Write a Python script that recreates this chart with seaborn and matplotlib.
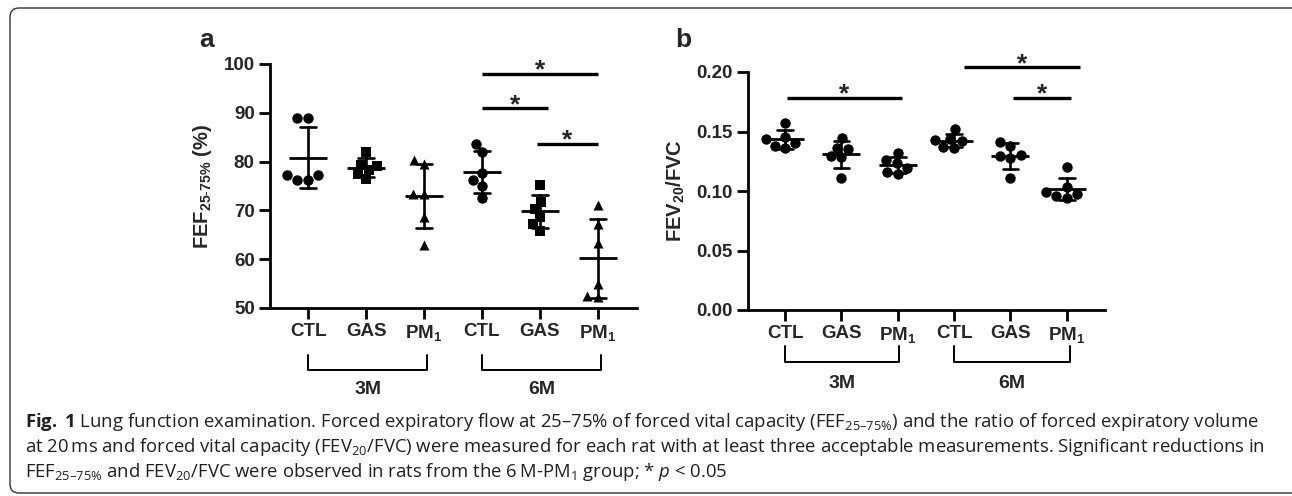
import pandas as pd
import matplotlib
matplotlib.use('Agg')
from matplotlib import pyplot as plt
from matplotlib import transforms
from matplotlib.patches import FancyBboxPatch
import seaborn as sns

# groups on the x axis (3 months, then 6 months)
groups = ['3M-CTL', '3M-GAS', '3M-PM1', '6M-CTL', '6M-GAS', '6M-PM1']
group_labels = ['CTL', 'GAS', r'PM$_\mathregular{1}$'] * 2
markers_a = ['o', 's', '^', 'o', 's', '^']
markers_b = ['o'] * 6
period_labels = ['3M', '6M']

# panel a: FEF 25-75% (%) per rat
fef_3m_ctl = [88.9, 88.9, 77.2, 77.2, 76.3, 76.3]
fef_3m_gas = [82.0, 79.4, 79.2, 78.2, 77.5, 76.4]
fef_3m_pm1 = [80.3, 79.6, 73.3, 73.3, 68.6, 63.0]
fef_6m_ctl = [83.7, 81.9, 77.7, 76.2, 74.9, 72.5]
fef_6m_gas = [75.2, 71.8, 70.3, 68.7, 67.2, 65.8]
fef_6m_pm1 = [71.1, 67.2, 63.3, 54.9, 52.5, 52.3]

# panel b: FEV20/FVC per rat
fev_3m_ctl = [0.1574, 0.1450, 0.1437, 0.1400, 0.1380, 0.1360]
fev_3m_gas = [0.1443, 0.1365, 0.1355, 0.1290, 0.1285, 0.1107]
fev_3m_pm1 = [0.1322, 0.1260, 0.1233, 0.1195, 0.1160, 0.1143]
fev_6m_ctl = [0.1518, 0.1440, 0.1430, 0.1420, 0.1370, 0.1360]
fev_6m_gas = [0.1415, 0.1380, 0.1300, 0.1290, 0.1275, 0.1107]
fev_6m_pm1 = [0.1199, 0.1036, 0.0990, 0.0975, 0.0960, 0.0945]

# significance bars: (from group, to group, height)
sig_a = [(3.0, 5.0, 97.9), (3.0, 4.15, 90.9), (3.95, 5.0, 83.7)]
sig_b = [(0.03, 2.07, 0.1784), (3.17, 5.23, 0.2039), (4.04, 5.07, 0.1779)]

caption_lines = [
    r'$\mathbf{Fig.}$ $\mathbf{1}$ Lung function examination. Forced expiratory flow at 25–75% of forced vital capacity '
    r'(FEF$_\mathregular{25–75\%}$) and the ratio of forced expiratory volume',
    'at 20\u2009ms and forced vital capacity (FEV$_\\mathregular{20}$/FVC) were measured for each rat with '
    'at least three acceptable measurements. Significant reductions in',
    'FEF$_\\mathregular{25–75\\%}$ and FEV$_\\mathregular{20}$/FVC were observed in rats from the '
    '6\u2009M-PM$_\\mathregular{1}$ group; * $\\mathit{p}$ < 0.05',
]


def to_long(series, markers):
    rows = []
    for g, m, vals in zip(groups, markers, series):
        for v in vals:
            rows.append({'group': g, 'marker': m, 'value': v})
    return pd.DataFrame(rows)


df_a = to_long([fef_3m_ctl, fef_3m_gas, fef_3m_pm1, fef_6m_ctl, fef_6m_gas, fef_6m_pm1], markers_a)
df_b = to_long([fev_3m_ctl, fev_3m_gas, fev_3m_pm1, fev_6m_ctl, fev_6m_gas, fev_6m_pm1], markers_b)

sns.set_style('ticks')
plt.rcParams['font.family'] = ['Liberation Sans', 'DejaVu Sans']
plt.rcParams['mathtext.fontset'] = 'custom'
plt.rcParams['mathtext.rm'] = 'Open Sans:weight=normal'
plt.rcParams['mathtext.it'] = 'Open Sans:style=italic:weight=normal'
plt.rcParams['mathtext.bf'] = 'Open Sans:weight=bold'

fig = plt.figure(figsize=(12.92, 4.96), dpi=100)
W, H = 1292, 496


def px_axes(left, top, right, bottom):
    return fig.add_axes([left / W, 1 - bottom / H, (right - left) / W, (bottom - top) / H])


ax_a = px_axes(270, 64, 637, 308)
ax_b = px_axes(748, 72, 1105, 310)

sizes = {'o': 7.5, 's': 6.6, '^': 7.2}


def draw_panel(ax, df, ylim, yticks, yfmt, ylabel, sig, brackets, brackets_y, label_y):
    for m in ['o', 's', '^']:
        sub = df[df.marker == m]
        if len(sub) == 0:
            continue
        sns.swarmplot(data=sub, x='group', y='value', order=groups, marker=m,
                      size=sizes[m], color='black', linewidth=0, ax=ax)
    sns.pointplot(data=df, x='group', y='value', order=groups, errorbar='sd',
                  capsize=0.28, color='black', marker='_', markersize=27,
                  markeredgewidth=2, linestyle='none', err_kws={'linewidth': 1.9}, ax=ax)
    ax.set_ylim(*ylim)
    ax.set_xlim(-0.66, 5.68)
    ax.set_yticks(yticks)
    ax.set_yticklabels([yfmt.format(t) for t in yticks])
    ax.set_xticks(range(len(groups)))
    ax.set_xticklabels(group_labels)
    ax.set_xlabel('')
    ax.set_ylabel(ylabel, fontsize=14.5, fontweight='bold', labelpad=7)
    ax.tick_params(width=2, length=8, labelsize=13.5, pad=3, color='black')
    plt.setp(ax.get_xticklabels() + ax.get_yticklabels(), fontweight='bold')
    sns.despine(ax=ax)
    for s in ['left', 'bottom']:
        ax.spines[s].set_linewidth(2)
        ax.spines[s].set_color('black')

    for x0, x1, y in sig:
        ax.plot([x0, x1], [y, y], color='black', lw=2.4, clip_on=False, solid_capstyle='butt')
        ax.annotate('*', ((x0 + x1) / 2, y), xytext=(0, -2.5), textcoords='offset points',
                    ha='center', va='baseline', fontsize=19, fontweight='bold',
                    annotation_clip=False)

    # group brackets below the tick labels
    tr = transforms.blended_transform_factory(ax.transData, fig.transFigure)
    y_top, y_bot = brackets_y
    for (x0, x1), lab in zip(brackets, period_labels):
        ax.plot([x0, x0, x1, x1], [1 - y_top / H, 1 - y_bot / H, 1 - y_bot / H, 1 - y_top / H],
                color='black', lw=1.4, transform=tr, clip_on=False)
        ax.text((x0 + x1) / 2, 1 - label_y / H, lab, transform=tr, ha='center', va='center',
                fontsize=14, fontweight='bold')


draw_panel(ax_a, df_a, (50, 100), [50, 60, 70, 80, 90, 100], '{:.0f}',
           r'FEF$_\mathregular{25\text{-}75\%}$ (%)', sig_a,
           [(0.0, 2.06), (3.01, 5.05)], (355, 370), 389)
draw_panel(ax_b, df_b, (0, 0.2), [0, 0.05, 0.10, 0.15, 0.20], '{:.2f}',
           r'FEV$_\mathregular{20}$/FVC', sig_b,
           [(0.0, 2.03), (3.0, 5.05)], (346, 362), 384)

fig.text(207 / W, 1 - 40 / H, 'a', fontsize=19, fontweight='bold', ha='center', va='center')
fig.text(683 / W, 1 - 40 / H, 'b', fontsize=19, fontweight='bold', ha='center', va='center')

for i, line in enumerate(caption_lines):
    fig.text(25 / W, 1 - (422 + 25 * i) / H, line, family='Open Sans', fontweight='normal',
             fontsize=13.3, color='#231f20', ha='left', va='center')

frame = FancyBboxPatch((0.10, 0.03), 13.2, 4.85, boxstyle='round,pad=0,rounding_size=0.09',
                       transform=fig.dpi_scale_trans, facecolor='none', edgecolor='#333333',
                       lw=1.0, clip_on=False)
fig.patches.append(frame)

fig.savefig('out.png', dpi=100)
